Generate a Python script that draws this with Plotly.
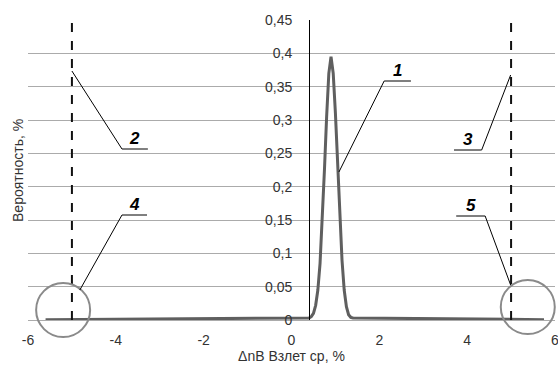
import plotly.graph_objects as go

# Curve data
x_vals = [-5.6, 0.4, 0.45, 0.5, 0.55, 0.6, 0.65, 0.7, 0.75, 0.8, 0.85, 0.9,
          0.95, 1.0, 1.05, 1.1, 1.15, 1.2, 1.25, 1.3, 1.35, 1.4, 5.75]
y_vals = [0.0005, 0.003, 0.005, 0.010, 0.022, 0.045, 0.085, 0.145, 0.225, 0.305,
          0.37, 0.395, 0.37, 0.31, 0.235, 0.155, 0.09, 0.045, 0.02, 0.008, 0.004, 0.003, 0.0005]

limit_x = [-5.0, 5.0]
x_ticks = [-6, -4, -2, 0, 2, 4, 6]
x_tick_text = ["-6", "-4", "-2", "0", "2", "4", "6"]
y_ticks = [0, 0.05, 0.1, 0.15, 0.2, 0.25, 0.3, 0.35, 0.4, 0.45]
y_tick_text = ["0", "0,05", "0,1", "0,15", "0,2", "0,25", "0,3", "0,35", "0,4", "0,45"]

# Callouts: label, point, elbow, end of underline
callouts = [
    ("1", (1.08, 0.222), (2.11, 0.3585), (2.72, 0.3585)),
    ("2", (-5.0, 0.3735), (-3.86, 0.2565), (-3.27, 0.2565)),
    ("3", (4.99, 0.3675), (4.33, 0.255), (3.70, 0.255)),
    ("4", (-4.82, 0.045), (-3.86, 0.1575), (-3.29, 0.1575)),
    ("5", (4.99, 0.0525), (4.41, 0.156), (3.75, 0.156)),
]
circles = [(-5.2, 0.015), (5.38, 0.0195)]

X0, X1, Y0, Y1 = -6, 6, 0, 0.45

fig = go.Figure()
fig.add_trace(go.Scatter(x=x_vals, y=y_vals, mode="lines",
                         line=dict(color="#5f5f5f", width=3), showlegend=False))

shapes = []
for lx in limit_x:
    shapes.append(dict(type="line", xref="x", yref="y", x0=lx, x1=lx, y0=0, y1=0.45,
                       line=dict(color="#111111", width=2, dash="dash")))
for cx, cy in circles:
    shapes.append(dict(type="circle", xref="paper", yref="paper", xsizemode="pixel", ysizemode="pixel",
                       xanchor=(cx - X0) / (X1 - X0), yanchor=(cy - Y0) / (Y1 - Y0),
                       x0=-27, x1=27, y0=-27, y1=27,
                       line=dict(color="#8a8a8a", width=2)))
annotations = []
for lab, p, e, u in callouts:
    shapes.append(dict(type="line", xref="x", yref="y", x0=p[0], y0=p[1], x1=e[0], y1=e[1],
                       line=dict(color="black", width=1)))
    shapes.append(dict(type="line", xref="x", yref="y", x0=e[0], y0=e[1], x1=u[0], y1=u[1],
                       line=dict(color="black", width=1)))
    annotations.append(dict(x=(e[0] + u[0]) / 2, y=e[1], xref="x", yref="y",
                            text="<b><i>" + lab + "</i></b>", showarrow=False,
                            yanchor="bottom", yshift=-1,
                            font=dict(family="Liberation Sans", size=17, color="black")))
annotations.append(dict(x=-0.019, y=0.5, xref="paper", yref="paper", text="Вероятность, %",
                        textangle=-90, showarrow=False, xanchor="center", yanchor="middle",
                        font=dict(family="Liberation Sans", size=14, color="#333333")))

fig.update_layout(
    width=558, height=367,
    margin=dict(l=28, r=3, t=20, b=47, autoexpand=False),
    paper_bgcolor="white", plot_bgcolor="white",
    separators=", ",
    shapes=shapes, annotations=annotations,
    font=dict(family="Liberation Sans", size=14, color="#333333"),
    xaxis=dict(range=[X0, X1], tickvals=x_ticks, ticktext=x_tick_text, showgrid=False, zeroline=False,
               showline=False, ticks="", ticklabelstandoff=10, ticklabeloverflow="allow",
               automargin=False,
               title=dict(text="ΔnB Взлет ср, %", standoff=0,
                          font=dict(size=14, color="#333333"))),
    yaxis=dict(range=[Y0, Y1], tickvals=y_ticks, ticktext=y_tick_text,
               showgrid=True, gridcolor="#ababab", gridwidth=1,
               zeroline=True, zerolinecolor="#ababab", zerolinewidth=1,
               showline=True, linecolor="black", linewidth=1, automargin=False,
               anchor="free", position=(0.4 + 6) / 12, ticks="", ticklabelstandoff=14),
)

fig.write_html("out.html")
